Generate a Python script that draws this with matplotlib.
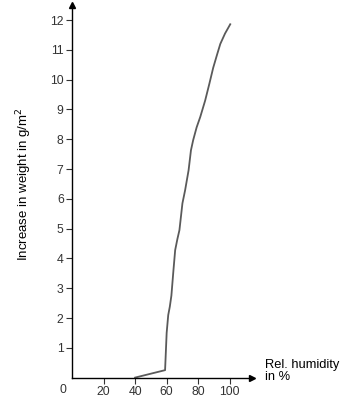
import numpy as np
import matplotlib.pyplot as plt

plt.rcParams['font.family'] = ['Liberation Sans', 'DejaVu Sans']

# values
humidity = [40, 59, 60, 61, 62, 63, 64.3, 65.4, 66.8, 68.1, 70, 71.7, 73.9, 75.4, 76.8, 79, 81.3, 84.4, 87, 89.5, 92, 94, 97, 100.3]
weight_gain = [0.0, 0.25, 1.5, 2.1, 2.38, 2.75, 3.6, 4.28, 4.65, 4.95, 5.85, 6.29, 6.96, 7.63, 7.97, 8.4, 8.75, 9.3, 9.85, 10.4, 10.85, 11.2, 11.55, 11.86]
x_ticks = [20, 40, 60, 80, 100]
y_ticks = list(range(1, 13))

fig = plt.figure(figsize=(3.52, 4.0), dpi=100)
ax = fig.add_axes([0.2045, 0.056, 0.511, 0.931])

ax.plot(humidity, weight_gain, color='#5a5a5a', linewidth=1.3)

ax.set_xlim(0, 114)
ax.set_ylim(0, 12.5)
ax.set_xticks(x_ticks)
ax.set_yticks(y_ticks)
ax.tick_params(axis='both', labelsize=8.8, colors='#333333', length=4, width=0.8, pad=2)

for side in ['top', 'right']:
    ax.spines[side].set_visible(False)
for side in ['left', 'bottom']:
    ax.spines[side].set_linewidth(1.0)
    ax.spines[side].set_color('black')

# arrow heads at the ends of the axes
ax.plot(1, 0, '>', color='black', markersize=5, transform=ax.transAxes, clip_on=False)
ax.plot(0, 1, '^', color='black', markersize=5, transform=ax.transAxes, clip_on=False)

# origin label sits at the corner
ax.text(-0.05, -0.034, '0', transform=ax.transAxes, fontsize=8.8, color='#333333',
        ha='center', va='center')

ax.set_ylabel('Increase in weight in g/m$^2$', fontsize=9.5)
ax.yaxis.set_label_coords(-0.21, 0.52)

fig.text(0.753, 0.072, 'Rel. humidity\nin %', fontsize=9.3, ha='left', va='center',
         linespacing=0.95)

fig.savefig('out.png', dpi=100)
